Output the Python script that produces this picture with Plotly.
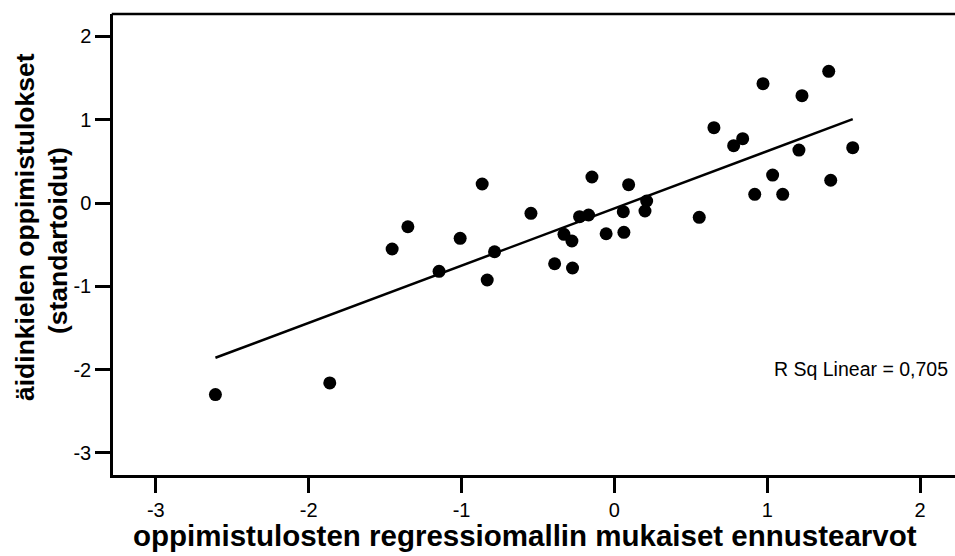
import numpy as np
import plotly.graph_objects as go

# predicted values (x) and standardized results (y)
pred = [-2.61, -1.862, -1.454, -1.351, -0.865, -1.009, -1.147, -0.784, -0.832,
        -0.546, -0.391, -0.274, -0.330, -0.278, -0.228, -0.169, -0.147, -0.054,
        0.062, 0.058, 0.093, 0.211, 0.200, 0.555, 0.651, 0.839, 0.780, 0.972,
        0.918, 1.035, 1.101, 1.207, 1.227, 1.402, 1.415, 1.559]
obs = [-2.30, -2.16, -0.552, -0.285, 0.228, -0.424, -0.820, -0.585, -0.924,
       -0.124, -0.729, -0.780, -0.376, -0.456, -0.164, -0.144, 0.312, -0.369,
       -0.352, -0.104, 0.220, 0.024, -0.096, -0.172, 0.904, 0.772, 0.688, 1.432,
       0.104, 0.336, 0.104, 0.636, 1.288, 1.581, 0.273, 0.664]

x_ticks = [-3, -2, -1, 0, 1, 2]
y_ticks = [-3, -2, -1, 0, 1, 2]
r2_label = "R Sq Linear = 0,705"
x_title = "oppimistulosten regressiomallin mukaiset ennustearvot"
y_title_1 = "äidinkielen oppimistulokset"
y_title_2 = "(standartoidut)"

xa = np.array(pred)
ya = np.array(obs)
slope, icpt = np.polyfit(xa, ya, 1)
line_x = [xa.min(), xa.max()]
line_y = [icpt + slope * v for v in line_x]

font = "Liberation Sans, Arial, sans-serif"

fig = go.Figure()
fig.add_trace(go.Scatter(x=line_x, y=line_y, mode="lines",
                         line=dict(color="black", width=2.5), hoverinfo="skip"))
fig.add_trace(go.Scatter(x=pred, y=obs, mode="markers",
                         marker=dict(color="black", size=13, line=dict(width=0))))

fig.update_layout(
    width=955, height=556,
    margin=dict(l=113, r=0, t=14, b=81),
    plot_bgcolor="white", paper_bgcolor="white",
    showlegend=False,
    font=dict(family=font, color="black"),
    xaxis=dict(range=[-3.28, 2.228], tickvals=x_ticks, ticktext=[str(v) for v in x_ticks],
               showgrid=False, zeroline=False, showline=True, linecolor="black",
               linewidth=2.5, mirror=False, ticks="outside", ticklen=15, tickwidth=2.5,
               tickcolor="black", tickfont=dict(size=20, family=font)),
    yaxis=dict(range=[-3.265, 2.269], tickvals=y_ticks, ticktext=[str(v) for v in y_ticks],
               showgrid=False, zeroline=False, showline=True, linecolor="black",
               linewidth=2.5, ticks="outside", ticklen=15, tickwidth=2.5,
               tickcolor="black", tickfont=dict(size=20, family=font)),
    shapes=[dict(type="line", xref="paper", yref="paper", x0=-0.0015, x1=1.01, y0=1, y1=1,
                 line=dict(color="black", width=2.5))],
    annotations=[
        dict(text=r2_label, xref="paper", yref="y", x=0.994, y=-1.99,
             xanchor="right", yanchor="middle", showarrow=False,
             font=dict(size=19.5, family=font, color="black")),
        dict(text="<b>" + x_title + "</b>", xref="paper", yref="paper", x=0.489, y=-0.131,
             xanchor="center", yanchor="middle", showarrow=False,
             font=dict(size=29.5, family=font, color="black")),
        dict(text="<b>" + y_title_1 + "</b>", xref="paper", yref="paper", x=-0.1045, y=0.538,
             xanchor="center", yanchor="middle", showarrow=False, textangle=-90,
             font=dict(size=26.5, family=font, color="black")),
        dict(text="<b>" + y_title_2 + "</b>", xref="paper", yref="paper", x=-0.0653, y=0.5076,
             xanchor="center", yanchor="middle", showarrow=False, textangle=-90,
             font=dict(size=26.5, family=font, color="black")),
    ],
)

fig.write_html("out.html")
